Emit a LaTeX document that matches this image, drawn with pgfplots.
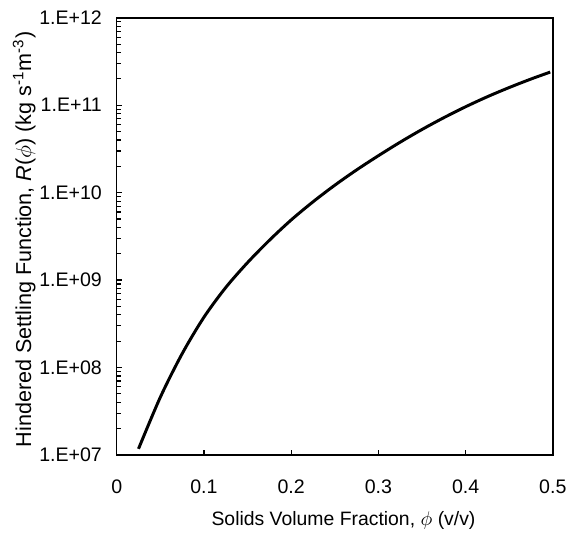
\documentclass[border=0pt]{standalone}
\usepackage{fontspec}
\setmainfont{Liberation Sans}
\usepackage{pgfplots}
\pgfplotsset{compat=1.18}

\begin{document}
\fontsize{9.9}{12}\selectfont
\begin{tikzpicture}
\begin{axis}[
    at={(0,0)}, anchor=south west,
    scale only axis,
    width=220.5pt, height=221pt,
    ymode=log,
    xmin=0, xmax=0.5,
    ymin=1e7, ymax=1e12,
    xtick={0,0.1,0.2,0.3,0.4,0.5},
    xticklabels={0,0.1,0.2,0.3,0.4,0.5},
    ytick={1e7,1e8,1e9,1e10,1e11,1e12},
    yticklabels={1.E+07,1.E+08,1.E+09,1.E+10,1.E+11,1.E+12},
    tick align=inside,
    xtick pos=bottom, ytick pos=left,
    major tick length=2.5pt, minor tick length=2pt,
    every tick/.style={black, line width=0.6pt},
    axis line style={line width=0.8pt},
    /pgf/number format/assume math mode=true,
    xticklabel style={yshift=-9pt},
    yticklabel style={xshift=-4pt},
    xlabel={Solids Volume Fraction, $\phi$ (v/v)},
    ylabel={Hindered Settling Function, \textit{R}($\phi$) (kg s\textsuperscript{-1}m\textsuperscript{-3})},
    xlabel style={at={(axis description cs:0.52,-0.15)}, anchor=center, font=\fontsize{9.8}{12}\selectfont},
    ylabel style={at={(axis description cs:-0.212,0.493)}, anchor=center, font=\fontsize{10.9}{13}\selectfont},
]
\addplot[black, line width=1.5pt, smooth] coordinates {
    (0.025, 1.175e7)
    (0.050, 4.571e7)
    (0.075, 1.437e8)
    (0.100, 3.758e8)
    (0.125, 8.222e8)
    (0.150, 1.585e9)
    (0.175, 2.851e9)
    (0.200, 4.870e9)
    (0.225, 7.852e9)
    (0.250, 1.216e10)
    (0.275, 1.820e10)
    (0.300, 2.646e10)
    (0.325, 3.780e10)
    (0.350, 5.279e10)
    (0.375, 7.202e10)
    (0.400, 9.605e10)
    (0.425, 1.252e11)
    (0.450, 1.594e11)
    (0.475, 1.995e11)
    (0.497, 2.393e11)
};
\end{axis}
\path[use as bounding box] (-59pt,-37.5pt) rectangle (227.5pt,230pt);
\end{tikzpicture}
\end{document}
